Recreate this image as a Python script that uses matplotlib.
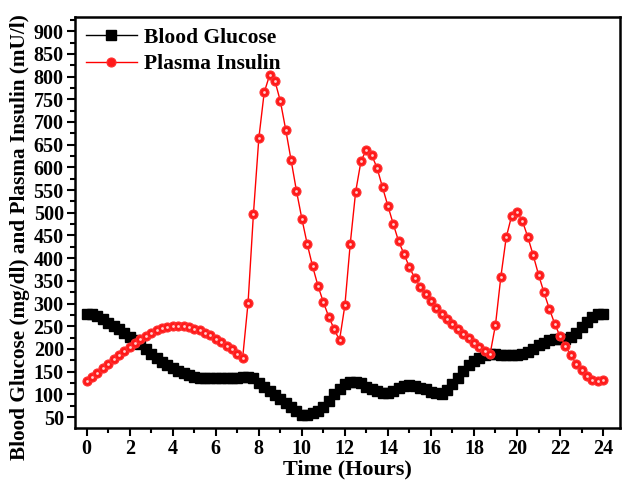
import numpy as np
import matplotlib.pyplot as plt
from matplotlib.ticker import MultipleLocator

# time axis, one sample every quarter hour over 24 h
hours = np.arange(0, 24.01, 0.25)

glucose = [
    278, 278, 272, 265, 258, 251, 243, 235, 227, 219, 210, 200,
    190, 180, 172, 165, 158, 152, 147, 142, 138, 136, 135, 135,
    135, 135, 135, 135, 136, 139, 139, 135, 126, 117, 108, 98,
    89, 81, 73, 63, 55, 55, 58, 63, 72, 85, 100, 112,
    122, 127, 127, 124, 116, 111, 107, 104, 104, 108, 114, 119,
    121, 119, 115, 111, 106, 102, 101, 110, 123, 137, 151, 164,
    174, 181, 186, 188, 188, 187, 186, 186, 186, 188, 193, 200,
    208, 214, 219, 221, 222, 222, 226, 236, 248, 260, 270, 277,
    277,
]

insulin = [
    130, 139, 148, 158, 167, 177, 186, 196, 205, 214, 222, 229,
    236, 241, 246, 249, 251, 251, 250, 248, 245, 241, 236, 230,
    223, 216, 207, 199, 190, 181, 302, 498, 664, 765, 803, 790,
    746, 683, 616, 548, 487, 431, 382, 339, 303, 271, 244, 219,
    296, 432, 546, 614, 639, 627, 598, 556, 515, 475, 437, 409,
    380, 356, 337, 321, 305, 291, 278, 267, 256, 245, 234, 224,
    214, 205, 196, 189, 253, 359, 446, 493, 502, 482, 447, 407,
    364, 325, 289, 256, 228, 207, 186, 168, 153, 141, 131, 129,
    131,
]

plt.rcParams['font.family'] = ['Liberation Serif', 'DejaVu Serif']
plt.rcParams['font.weight'] = 'bold'

fig = plt.figure(figsize=(6.24, 4.88), dpi=100)
ax = fig.add_axes([0.120, 0.123, 0.874, 0.842])

ax.plot(hours, glucose, '-', color='black', lw=1, marker='s', ms=7,
        mfc='black', mec='black', label='Blood Glucose', zorder=3)
ax.plot(hours, insulin, '-', color='red', lw=1, marker='o', ms=6.5,
        mfc='#ff1a1a', mec='#ff3030', mew=0.8, label='Plasma Insulin', zorder=4)
# small highlight on each insulin ball
ax.plot(hours, insulin, 'o', ms=2, mfc='#ffd0d0', mec='none', zorder=5)

ax.set_xlim(-0.55, 24.8)
ax.set_ylim(26, 931)
ax.set_xticks(range(0, 25, 2))
ax.set_yticks(range(50, 901, 50))
ax.xaxis.set_minor_locator(MultipleLocator(1))
ax.yaxis.set_minor_locator(MultipleLocator(25))

ax.tick_params(which='both', direction='out', width=1.5, labelsize=14.5,
               top=False, right=False)
ax.tick_params(which='major', length=6, pad=2)
ax.tick_params(which='minor', length=3.5)
for s in ax.spines.values():
    s.set_linewidth(1.8)

ax.set_xlabel('Time (Hours)', fontsize=16, fontweight='bold', labelpad=0)
ax.set_ylabel('Blood Glucose (mg/dl) and Plasma Insulin (mU/l)',
              fontsize=15.3, fontweight='bold')
ax.yaxis.set_label_coords(-0.082, 0.465)

ax.legend(loc='upper left', frameon=False, fontsize=15.5,
          handlelength=2.4, handletextpad=0.3, labelspacing=0.3,
          borderaxespad=0.1, bbox_to_anchor=(0.0, 1.0))

fig.savefig('out.png', dpi=100)
